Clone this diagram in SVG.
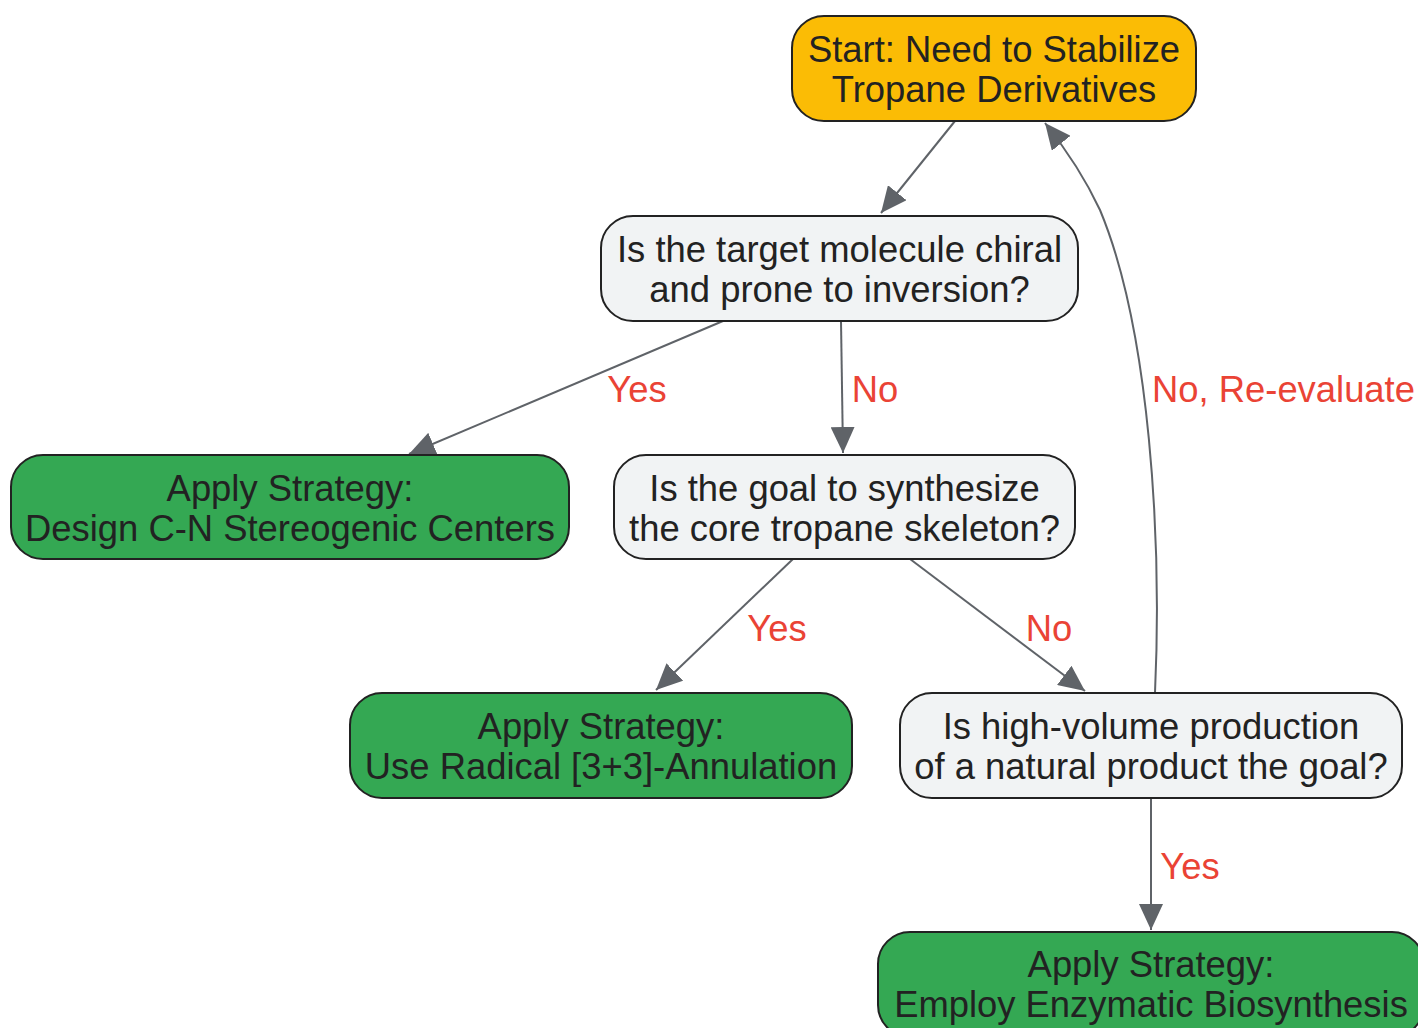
<svg xmlns="http://www.w3.org/2000/svg" width="1418" height="1028" viewBox="0 0 1418 1028">
<style>
.node{stroke:#222;stroke-width:2}
.start{fill:#FBBC05}
.q{fill:#F1F3F4}
.g{fill:#34A853}
.t{font-family:"Liberation Sans",Arial,sans-serif;font-size:36.4px;fill:#222;text-anchor:middle}
.e{fill:none;stroke:#5F6368;stroke-width:2}
.l{font-family:"Liberation Sans",Arial,sans-serif;font-size:36.4px;fill:#EA4335}
</style>
<defs>
<marker id="arr" markerUnits="userSpaceOnUse" markerWidth="28" markerHeight="24" refX="26" refY="12" orient="auto">
<path d="M0,0 L26,12 L0,24 Z" fill="#5F6368"/>
</marker>
</defs>
<rect width="1418" height="1028" fill="#fff"/>
<g id="connectors">
<path class="e" d="M955,121 L881,213" marker-end="url(#arr)"/>
<path class="e" d="M723,321 L409,454" marker-end="url(#arr)"/>
<path class="e" d="M841,321 L843,453" marker-end="url(#arr)"/>
<path class="e" d="M793,559 L656,690" marker-end="url(#arr)"/>
<path class="e" d="M910,559 L1085,691" marker-end="url(#arr)"/>
<path class="e" d="M1151,798 L1151,930" marker-end="url(#arr)"/>
<path class="e" d="M1155,693 C1162,540 1150,330 1100,210 C1085,178 1065,148 1045,123" marker-end="url(#arr)"/>
<text class="l" x="637" y="402" text-anchor="middle">Yes</text>
<text class="l" x="875" y="402" text-anchor="middle">No</text>
<text class="l" x="777" y="641" text-anchor="middle">Yes</text>
<text class="l" x="1049" y="641" text-anchor="middle">No</text>
<text class="l" x="1190" y="879" text-anchor="middle">Yes</text>
<text class="l" x="1152" y="402">No, Re-evaluate</text>
</g>
<g id="start">
<rect class="node start" x="792" y="16" width="404" height="105" rx="32"/>
<text class="t" x="994" y="62">Start: Need to Stabilize</text>
<text class="t" x="994" y="102">Tropane Derivatives</text>
</g>
<g id="q1">
<rect class="node q" x="601" y="216" width="477" height="105" rx="32"/>
<text class="t" x="839.5" y="262">Is the target molecule chiral</text>
<text class="t" x="839.5" y="302">and prone to inversion?</text>
</g>
<g id="g1">
<rect class="node g" x="11" y="455" width="558" height="104" rx="32"/>
<text class="t" x="290" y="501">Apply Strategy:</text>
<text class="t" x="290" y="541">Design C-N Stereogenic Centers</text>
</g>
<g id="q2">
<rect class="node q" x="614" y="455" width="461" height="104" rx="32"/>
<text class="t" x="844.5" y="501">Is the goal to synthesize</text>
<text class="t" x="844.5" y="541">the core tropane skeleton?</text>
</g>
<g id="g2">
<rect class="node g" x="350" y="693" width="502" height="105" rx="32"/>
<text class="t" x="601" y="739">Apply Strategy:</text>
<text class="t" x="601" y="779">Use Radical [3+3]-Annulation</text>
</g>
<g id="q3">
<rect class="node q" x="900" y="693" width="502" height="105" rx="32"/>
<text class="t" x="1151" y="739">Is high-volume production</text>
<text class="t" x="1151" y="779">of a natural product the goal?</text>
</g>
<g id="g3">
<rect class="node g" x="878" y="932" width="546" height="105" rx="32"/>
<text class="t" x="1151" y="977">Apply Strategy:</text>
<text class="t" x="1151" y="1017">Employ Enzymatic Biosynthesis</text>
</g>
</svg>
